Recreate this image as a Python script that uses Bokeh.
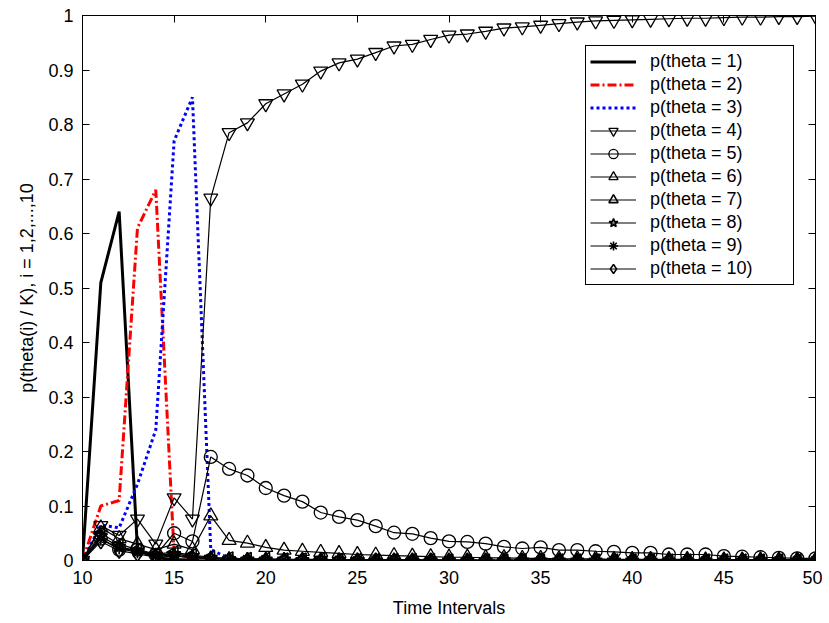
from bokeh.plotting import figure
from bokeh.models import Range1d, FixedTicker, LinearAxis, CustomJSTickFormatter
from bokeh.embed import file_html
from bokeh.resources import INLINE

# ---------------- data ----------------
time = [10, 11, 12, 13, 14, 15, 16, 17, 18, 19,
        20, 21, 22, 23, 24, 25, 26, 27, 28, 29,
        30, 31, 32, 33, 34, 35, 36, 37, 38, 39,
        40, 41, 42, 43, 44, 45, 46, 47, 48, 49,
        50]

theta1 = [0, 0.51, 0.64, 0.02, 0.005, 0.002, 0.001, 0.001, 0, 0,
          0, 0, 0, 0, 0, 0, 0, 0, 0, 0,
          0, 0, 0, 0, 0, 0, 0, 0, 0, 0,
          0, 0, 0, 0, 0, 0, 0, 0, 0, 0,
          0]
theta2 = [0, 0.10, 0.11, 0.61, 0.68, 0.012, 0.004, 0.002, 0.001, 0.001,
          0, 0, 0, 0, 0, 0, 0, 0, 0, 0,
          0, 0, 0, 0, 0, 0, 0, 0, 0, 0,
          0, 0, 0, 0, 0, 0, 0, 0, 0, 0,
          0]
theta3 = [0, 0.065, 0.06, 0.14, 0.24, 0.77, 0.85, 0.02, 0.004, 0.002,
          0.001, 0.001, 0, 0, 0, 0, 0, 0, 0, 0,
          0, 0, 0, 0, 0, 0, 0, 0, 0, 0,
          0, 0, 0, 0, 0, 0, 0, 0, 0, 0,
          0]
theta4 = [0, 0.064, 0.046, 0.076, 0.030, 0.115, 0.076, 0.665, 0.785, 0.803,
          0.838, 0.856, 0.874, 0.898, 0.913, 0.920, 0.932, 0.944, 0.947, 0.956,
          0.964, 0.966, 0.971, 0.977, 0.979, 0.982, 0.985, 0.988, 0.990, 0.991,
          0.992, 0.993, 0.994, 0.995, 0.995, 0.996, 0.997, 0.997, 0.998, 0.998,
          0.999]
theta5 = [0, 0.040, 0.020, 0.020, 0.010, 0.050, 0.035, 0.190, 0.168, 0.156,
          0.133, 0.119, 0.108, 0.088, 0.080, 0.074, 0.063, 0.051, 0.049, 0.041,
          0.035, 0.034, 0.031, 0.025, 0.022, 0.024, 0.019, 0.019, 0.017, 0.016,
          0.014, 0.014, 0.011, 0.011, 0.011, 0.008, 0.007, 0.006, 0.005, 0.004,
          0.004]
theta6 = [0, 0.060, 0.040, 0.030, 0.020, 0.030, 0.020, 0.082, 0.037, 0.032,
          0.024, 0.019, 0.017, 0.015, 0.013, 0.011, 0.010, 0.009, 0.008, 0.007,
          0.006, 0.006, 0.005, 0.005, 0.004, 0.004, 0.003, 0.003, 0.003, 0.002,
          0.002, 0.002, 0.002, 0.002, 0.001, 0.001, 0.001, 0.001, 0.001, 0.001,
          0.001]
theta7 = [0, 0.050, 0.030, 0.020, 0.012, 0.015, 0.010, 0.006, 0.004, 0.003,
          0.003, 0.002, 0.002, 0.002, 0.001, 0.001, 0.001, 0.001, 0.001, 0.001,
          0, 0, 0, 0, 0, 0, 0, 0, 0, 0,
          0, 0, 0, 0, 0, 0, 0, 0, 0, 0,
          0]
theta8 = [0, 0.045, 0.025, 0.018, 0.010, 0.012, 0.008, 0.005, 0.003, 0.002,
          0.002, 0.002, 0.001, 0.001, 0.001, 0.001, 0, 0, 0, 0,
          0, 0, 0, 0, 0, 0, 0, 0, 0, 0,
          0, 0, 0, 0, 0, 0, 0, 0, 0, 0,
          0]
theta9 = [0, 0.040, 0.022, 0.015, 0.008, 0.010, 0.006, 0.004, 0.003, 0.002,
          0.002, 0.001, 0.001, 0.001, 0.001, 0, 0, 0, 0, 0,
          0, 0, 0, 0, 0, 0, 0, 0, 0, 0,
          0, 0, 0, 0, 0, 0, 0, 0, 0, 0,
          0]
theta10 = [0, 0.035, 0.018, 0.012, 0.006, 0.008, 0.005, 0.003, 0.002, 0.001,
           0.001, 0.001, 0.001, 0, 0, 0, 0, 0, 0, 0,
           0, 0, 0, 0, 0, 0, 0, 0, 0, 0,
           0, 0, 0, 0, 0, 0, 0, 0, 0, 0,
           0]

labels = ["p(theta = 1)", "p(theta = 2)", "p(theta = 3)", "p(theta = 4)",
          "p(theta = 5)", "p(theta = 6)", "p(theta = 7)", "p(theta = 8)",
          "p(theta = 9)", "p(theta = 10)"]

x_ticks = [10, 15, 20, 25, 30, 35, 40, 45, 50]
y_ticks = [0, 0.1, 0.2, 0.3, 0.4, 0.5, 0.6, 0.7, 0.8, 0.9, 1]

FONT = "Liberation Sans"

# ---------------- figure ----------------
p = figure(width=822, height=620, output_backend="svg", toolbar_location=None,
           x_range=Range1d(10, 50), y_range=Range1d(0, 1),
           min_border_left=82, min_border_right=7,
           min_border_top=15, min_border_bottom=58)
p.background_fill_color = "white"
p.border_fill_color = "white"
p.outline_line_color = "black"
p.outline_line_width = 1
p.xgrid.visible = False
p.ygrid.visible = False

# lines without markers
p.line(time, theta1, line_color="black", line_width=3, legend_label=labels[0])
p.line(time, theta2, line_color="#ff0000", line_width=3, line_dash="9 3 2 3",
       legend_label=labels[1])
p.line(time, theta3, line_color="#0000ff", line_width=3, line_dash="3 3",
       legend_label=labels[2])

marked = [
    (theta4, "inverted_triangle", 0.0, 14, 1.3),
    (theta5, "circle", 0.0, 13, 1.3),
    (theta6, "triangle", 0.0, 14, 1.3),
    (theta7, "triangle", 1.5708, 13, 1.6),
    (theta8, "star", 0.0, 14, 1.6),
    (theta9, "asterisk", 0.0, 12, 1.6),
    (theta10, "diamond", 0.0, 15, 1.6),
]
for i, (ser, mk, ang, sz, lw) in enumerate(marked):
    lab = labels[3 + i]
    p.line(time, ser, line_color="black", line_width=1.2, legend_label=lab)
    p.scatter(time, ser, marker=mk, angle=ang, size=sz, line_color="black",
              line_width=lw, fill_color=None, legend_label=lab)

# ---------------- axes ----------------
def style_axis(ax, ticks, show_labels):
    ax.ticker = FixedTicker(ticks=ticks)
    ax.minor_tick_line_color = None
    ax.major_tick_in = 7
    ax.major_tick_out = 0
    ax.major_tick_line_color = "black"
    ax.axis_line_color = "black"
    ax.axis_line_width = 1
    ax.major_label_text_font = FONT
    ax.major_label_text_font_size = "18px"
    ax.major_label_text_color = "black"
    ax.axis_label_text_font = FONT
    ax.axis_label_text_font_size = "18px"
    ax.axis_label_text_font_style = "normal"
    ax.axis_label_text_color = "black"
    if not show_labels:
        ax.major_label_text_font_size = "0px"
        ax.major_label_standoff = 0
        ax.formatter = CustomJSTickFormatter(code="return ''")

xa = p.xaxis[0]
ya = p.yaxis[0]
style_axis(xa, x_ticks, True)
style_axis(ya, y_ticks, True)
xa.axis_label = "Time Intervals"
xa.major_label_standoff = 10
xa.axis_label_standoff = 11
ya.axis_label = "p(theta(i) / K), i = 1,2,...,10"
ya.major_label_standoff = 9
ya.axis_label_standoff = 8
ya.formatter = CustomJSTickFormatter(code="return String(Math.round(tick*10)/10)")

top = LinearAxis()
style_axis(top, x_ticks, False)
p.add_layout(top, "above")
right = LinearAxis()
style_axis(right, y_ticks, False)
p.add_layout(right, "right")

# ---------------- legend ----------------
lg = p.legend[0]
lg.location = (503, 275)
lg.border_line_color = "black"
lg.border_line_width = 1
lg.border_line_alpha = 1
lg.background_fill_color = "white"
lg.background_fill_alpha = 1
lg.padding = 4
lg.spacing = 0
lg.margin = 0
lg.glyph_width = 46
lg.glyph_height = 23
lg.label_height = 23
lg.label_standoff = 14
lg.label_width = 139
lg.label_text_font = FONT
lg.label_text_font_size = "18px"
lg.label_text_color = "black"

open("out.html", "w").write(file_html(p, INLINE))
